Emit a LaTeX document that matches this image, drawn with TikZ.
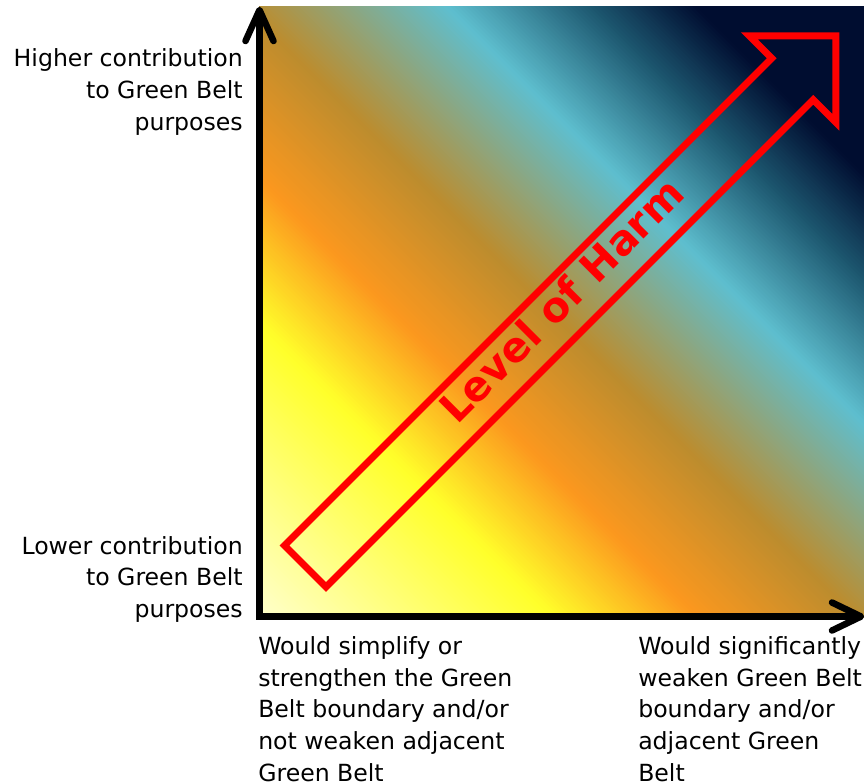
\documentclass[tikz,border=0pt]{standalone}
\usepackage{fontspec}
\setmainfont{DejaVu Sans}
\definecolor{g0}{HTML}{FFFFC8}
\definecolor{g1}{HTML}{FFFF2A}
\definecolor{g2}{HTML}{FC981E}
\definecolor{g3}{HTML}{BC8C2E}
\definecolor{g4}{HTML}{5EBFCF}
\definecolor{g5}{HTML}{1E5A72}
\definecolor{g6}{HTML}{000D30}
\definecolor{harmred}{HTML}{FF0000}
\tikzset{
  axisline/.style={line width=4.9pt, line cap=round, line join=round, draw=black},
  harmoutline/.style={draw=harmred, line width=5.25pt, line join=miter},
  lbl/.style={inner sep=0pt, font=\fontsize{17.7}{23.8}\selectfont, text=black},
  harmtext/.style={inner sep=0pt, text=harmred, font=\fontsize{31}{37}\selectfont\bfseries},
}
\begin{document}
\begin{tikzpicture}[x=0.75pt,y=-0.75pt]
\useasboundingbox (0,0) rectangle (864,782);
% gradient background
\begin{scope}
\clip (259,6) rectangle (864,617);
\begin{scope}[shift={(263,613)}]
\foreach \a/\b/\ca/\cb in {0/285/g0/g1,285/430/g1/g2,430/590/g2/g3,590/790/g3/g4,790/930/g4/g5,930/1040/g5/g6,1040/1220/g6/g6}{
  \pgfmathtruncatemacro\n{max(1,round((\b-\a)/4))}
  \pgfmathsetmacro\dd{(\b-\a)/\n}
  \foreach \j in {1,...,\n}{
    \pgfmathsetmacro\sa{\a+\dd*(\j-1)}
    \pgfmathsetmacro\sb{\a+\dd*\j+1.2}
    \pgfmathsetmacro\p{100*(\j-0.5)/\n}
    \fill[\cb!\p!\ca] (\sa+20,20) -- (\sb+20,20) -- (\sb-1300,-1300) -- (\sa-1300,-1300) -- cycle;
  }
}
\end{scope}
\end{scope}
% axes
\coordinate (O) at (259.5,616.5);
\coordinate (Ytip) at (259.5,10);
\coordinate (Xtip) at (861,616.5);
\draw[axisline, line join=miter, line cap=butt] (Ytip) -- (O) -- (Xtip);
\draw[axisline] ([shift={(-14,31)}]Ytip) -- (Ytip) -- ([shift={(14,31)}]Ytip);
\draw[axisline] ([shift={(-29,-14)}]Xtip) -- (Xtip) -- ([shift={(-29,14)}]Xtip);
% level of harm arrow
\coordinate (A) at (284.5,545.5);
\coordinate (B) at (771.75,58.25);
\coordinate (C) at (749.25,35.75);
\coordinate (T) at (835.75,35.75);
\coordinate (H) at (835.75,122.25);
\coordinate (D) at (813.25,99.75);
\coordinate (E) at (326,587);
\draw[harmoutline] (A) -- (B) -- (C) -- (T) -- (H) -- (D) -- (E) -- cycle;
\node[harmtext, rotate=45, anchor=base] (harm) at (572,311) {Level of Harm};
% labels
\node[lbl, align=right, anchor=north east] (hi) at (243,48.6) {Higher contribution\\to Green Belt\\purposes};
\node[lbl, align=right, anchor=north east] (lo) at (243,536) {Lower contribution\\to Green Belt\\purposes};
\node[lbl, align=left, anchor=north west] (weakL) at (258,636.2) {Would simplify or\\strengthen the Green\\Belt boundary and/or\\not weaken adjacent\\Green Belt};
\node[lbl, align=left, anchor=north west] (weakR) at (638,636.2) {Would significantly\\weaken Green Belt\\boundary and/or\\adjacent Green\\Belt};
\end{tikzpicture}
\end{document}
